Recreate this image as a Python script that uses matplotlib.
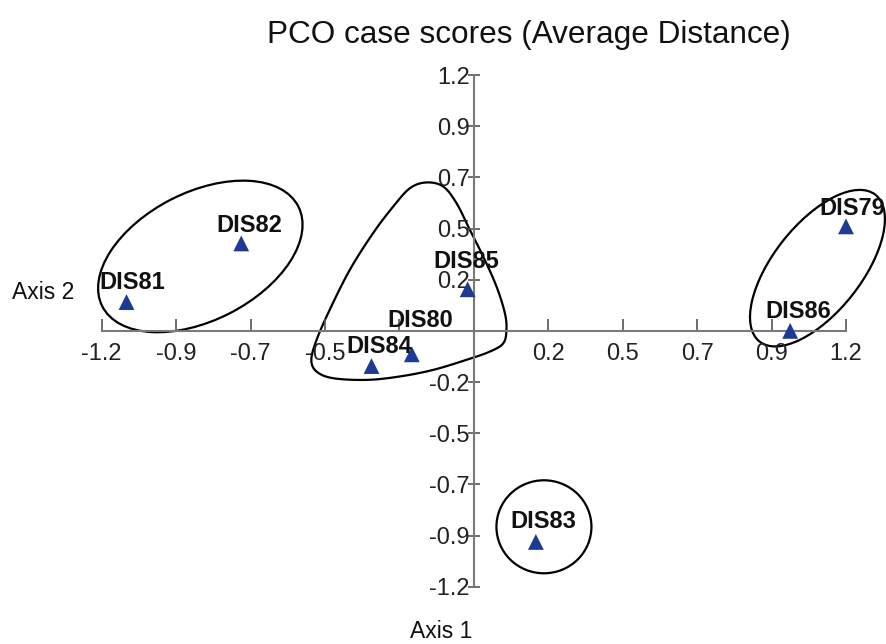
import numpy as np
import matplotlib
matplotlib.use('Agg')
import matplotlib.pyplot as plt
from matplotlib.patches import Ellipse, Polygon
import matplotlib.transforms as mtransforms

plt.rcParams['font.family'] = ['Liberation Sans', 'DejaVu Sans']

# ---------------- data ----------------
case_labels = ['DIS79', 'DIS80', 'DIS81', 'DIS82', 'DIS83', 'DIS84', 'DIS85', 'DIS86']
axis1_scores = [1.20, -0.20, -1.12, -0.75, 0.20, -0.33, -0.02, 1.02]
axis2_scores = [0.49, -0.11, 0.135, 0.41, -0.99, -0.165, 0.195, 0.0]

tick_values = np.linspace(-1.2, 1.2, 11)
x_tick_labels = ['-1.2', '-0.9', '-0.7', '-0.5', '', '', '0.2', '0.5', '0.7', '0.9', '1.2']
y_tick_labels = ['-1.2', '-0.9', '-0.7', '-0.5', '-0.2', '', '0.2', '0.5', '0.7', '0.9', '1.2']

# group outlines (ellipses: centre x, centre y, width in, height in, angle)
group_ellipses = [
    (-0.882, 0.349, 2.20, 1.28, 27),
    (1.108, 0.294, 1.87, 0.88, 51.7),
    (0.226, -0.919, 0.95, 0.93, 0),
]
# rounded-triangle outline around DIS80/84/85
group_outline_x = [-0.153, -0.099, -0.056, -0.013, 0.030, 0.073, 0.100, 0.105, 0.095, 0.052,
                   -0.024, -0.131, -0.239, -0.346, -0.454, -0.507, -0.524, -0.507, -0.465,
                   -0.400, -0.325, -0.260, -0.206]
group_outline_y = [0.696, 0.677, 0.599, 0.474, 0.349, 0.208, 0.083, 0.005, -0.058, -0.097,
                   -0.136, -0.183, -0.214, -0.230, -0.222, -0.191, -0.136, -0.042, 0.098,
                   0.286, 0.458, 0.583, 0.669]

# label offsets in points
label_offsets = {'DIS79': (4.5, 8.4), 'DIS80': (5.8, 19.4), 'DIS81': (4.3, 9.6),
                 'DIS82': (5.8, 8.4), 'DIS83': (5.0, 9.9), 'DIS84': (5.8, 9.6),
                 'DIS85': (-1.0, 15.0), 'DIS86': (5.8, 9.6)}


def catmull_rom_closed(xs, ys, n=24):
    pts = np.column_stack([xs, ys])
    N = len(pts)
    out = []
    t = np.linspace(0, 1, n, endpoint=False)[:, None]
    for i in range(N):
        p0, p1, p2, p3 = pts[i - 1], pts[i], pts[(i + 1) % N], pts[(i + 2) % N]
        seg = 0.5 * ((2 * p1) + (-p0 + p2) * t + (2 * p0 - 5 * p1 + 4 * p2 - p3) * t ** 2
                     + (-p0 + 3 * p1 - 3 * p2 + p3) * t ** 3)
        out.append(seg)
    return np.vstack(out)


fig = plt.figure(figsize=(8.86, 6.44), dpi=100)
ax = fig.add_axes([101.7 / 886, 1 - 586.7 / 644, (846 - 101.7) / 886, (586.7 - 75) / 644])
ax.set_xlim(-1.2, 1.2)
ax.set_ylim(-1.2, 1.2)

for s in ['top', 'right']:
    ax.spines[s].set_visible(False)
ax.spines['left'].set_position(('data', 0))
ax.spines['bottom'].set_position(('data', 0))
for s in ['left', 'bottom']:
    ax.spines[s].set_color('#7a7a7a')
    ax.spines[s].set_linewidth(1.5)

ax.set_xticks(tick_values)
ax.set_xticklabels(x_tick_labels)
ax.set_yticks(tick_values)
ax.set_yticklabels(y_tick_labels)
ax.tick_params(axis='x', direction='in', length=8.5, width=1.2, color='#555555',
               labelsize=17, pad=9, labelcolor='#222222')
ax.tick_params(axis='y', direction='inout', length=8, width=1.2, color='#555555',
               labelsize=17, pad=-1, labelcolor='#222222')
ax.patch.set_visible(False)

# group outlines
for cx, cy, w, h, ang in group_ellipses:
    tr = fig.dpi_scale_trans + mtransforms.ScaledTranslation(cx, cy, ax.transData)
    e = Ellipse((0, 0), w, h, angle=ang, transform=tr, fill=False,
                edgecolor='black', linewidth=1.6, clip_on=False)
    ax.add_patch(e)

outline = catmull_rom_closed(group_outline_x, group_outline_y)
ax.add_patch(Polygon(outline, closed=True, fill=False, edgecolor='black',
                     linewidth=1.6, clip_on=False))

# points
ax.scatter(axis1_scores, axis2_scores, marker='^', s=130, color='#1f3a93',
           edgecolor='none', zorder=5, clip_on=False)

for lab, x, y in zip(case_labels, axis1_scores, axis2_scores):
    dx, dy = label_offsets[lab]
    ax.annotate(lab, (x, y), xytext=(dx, dy), textcoords='offset points',
                ha='center', va='baseline', fontsize=17, fontweight='bold',
                color='#111111', zorder=6, annotation_clip=False)

fig.text(529 / 886, 1 - 35 / 644, 'PCO case scores (Average Distance)',
         ha='center', va='center', fontsize=22.7, color='#111111')
fig.text(12 / 886, 1 - 292 / 644, 'Axis 2', ha='left', va='center',
         fontsize=16.5, color='#111111')
fig.text(441 / 886, 1 - 631 / 644, 'Axis 1', ha='center', va='center',
         fontsize=16.5, color='#111111')

fig.savefig('out.png', dpi=100)
